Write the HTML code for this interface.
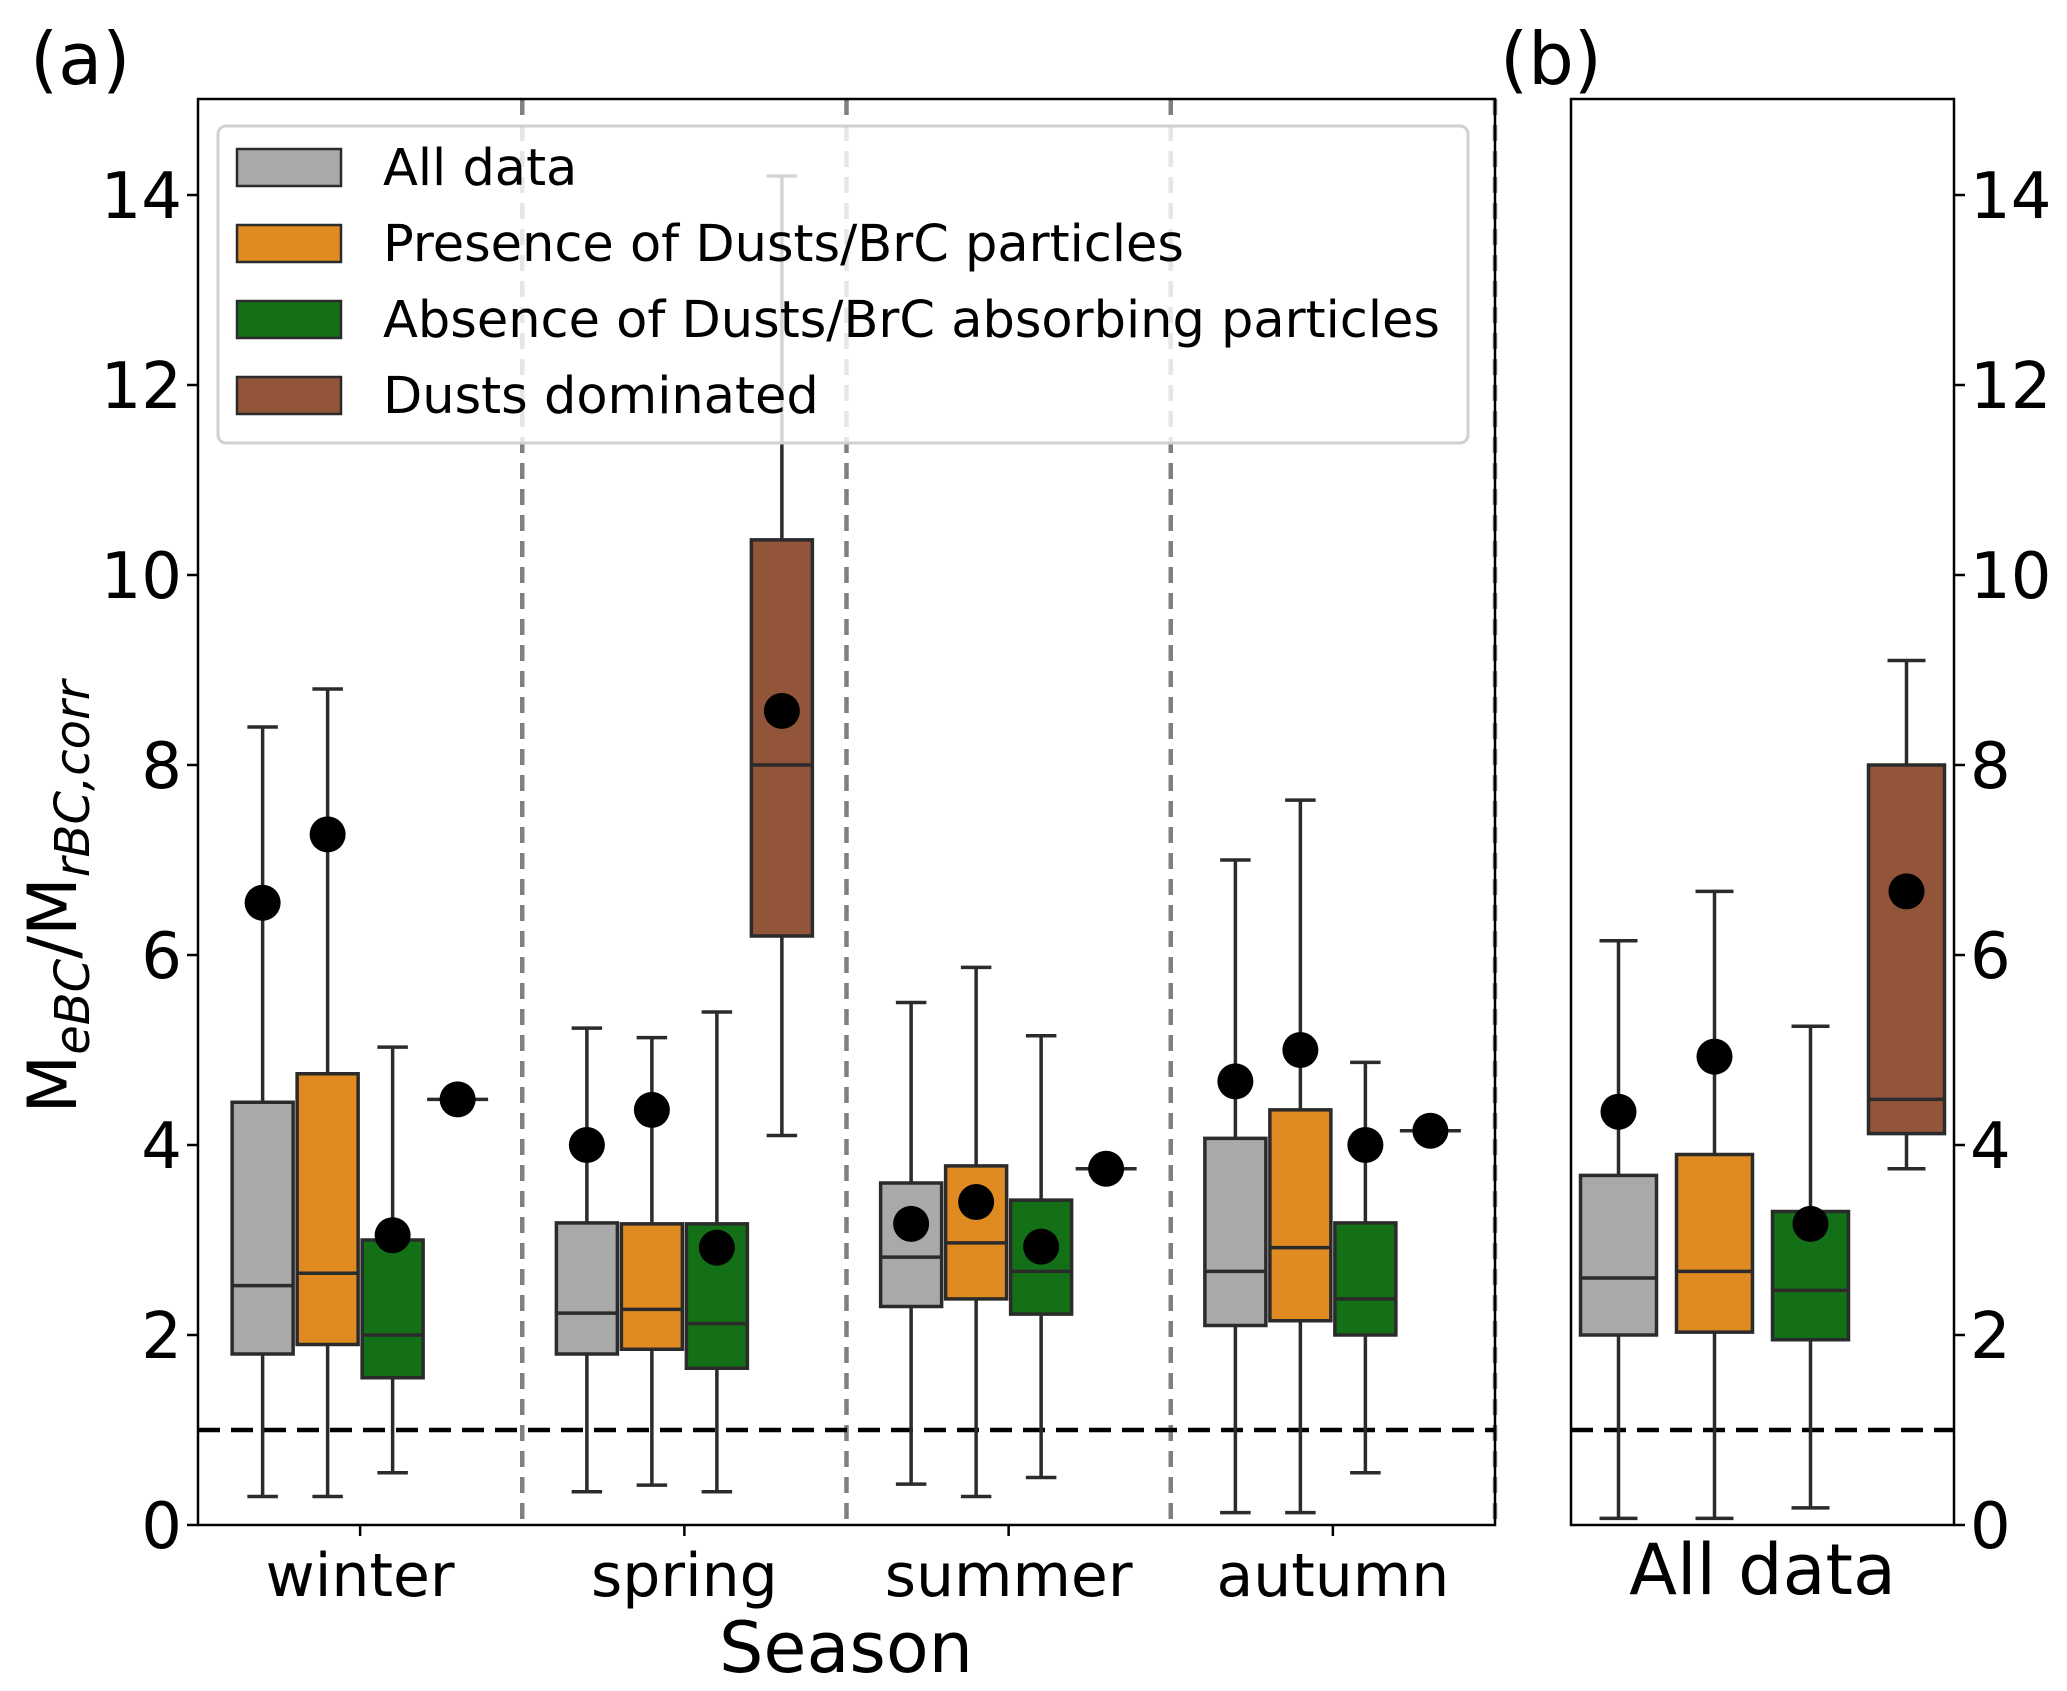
<!DOCTYPE html>
<html><head><meta charset="utf-8"><style>
html,body{margin:0;padding:0;background:#fff;}
svg{display:block;font-family:"DejaVu Sans","Liberation Sans",sans-serif;}
</style></head><body>
<svg id="chart" width="2067" height="1691" viewBox="0 0 2067 1691" xmlns="http://www.w3.org/2000/svg">
<g id="panelA"></g>
<g id="panelB"></g>
<g id="legend"></g>
<text x="30" y="84" font-size="72">(a)</text>
<text x="1500" y="84" font-size="72">(b)</text>
<text transform="translate(76,897) rotate(-90)" text-anchor="middle" font-size="68">M<tspan font-size="48" font-style="italic" dy="13">eBC</tspan><tspan dy="-13">/M</tspan><tspan font-size="48" font-style="italic" dy="13">rBC,corr</tspan></text>
<text x="846" y="1672" text-anchor="middle" font-size="70">Season</text>
</svg>
<script>
const seasons = ["winter","spring","summer","autumn"];
const groups = ["All data","Presence of Dusts/BrC particles","Absence of Dusts/BrC absorbing particles","Dusts dominated"];
const colors = ["#a9a9a9","#e08a22","#137016","#93553a"];
// [whiskerLow, q1, median, q3, whiskerHigh, mean] per season per group
const winterStats = [[0.3,1.8,2.52,4.45,8.4,6.55],[0.3,1.9,2.65,4.75,8.8,7.27],[0.55,1.55,2.0,3.0,5.03,3.05],[4.48,4.48,4.48,4.48,4.48,4.48]];
const springStats = [[0.35,1.8,2.23,3.18,5.23,4.0],[0.42,1.85,2.27,3.17,5.13,4.37],[0.35,1.65,2.12,3.17,5.4,2.92],[4.1,6.2,8.0,10.37,14.2,8.57]];
const summerStats = [[0.43,2.3,2.82,3.6,5.5,3.17],[0.3,2.38,2.97,3.78,5.87,3.4],[0.5,2.22,2.67,3.42,5.15,2.93],[3.75,3.75,3.75,3.75,3.75,3.75]];
const autumnStats = [[0.13,2.1,2.67,4.07,7.0,4.67],[0.13,2.15,2.92,4.37,7.63,5.0],[0.55,2.0,2.38,3.18,4.87,4.0],[4.15,4.15,4.15,4.15,4.15,4.15]];
const allStats = [[0.07,2.0,2.6,3.68,6.15,4.35],[0.07,2.03,2.67,3.9,6.67,4.93],[0.18,1.95,2.47,3.3,5.25,3.17],[3.75,4.12,4.48,8.0,9.1,6.67]];
const yTicks = [0,2,4,6,8,10,12,14];
const refLine = 1;

const NS="http://www.w3.org/2000/svg";
const Y0=1525, UNIT=95;
function y(v){return Y0-v*UNIT;}
function mk(parent,tag,attrs){const e=document.createElementNS(NS,tag);for(const k in attrs)e.setAttribute(k,attrs[k]);parent.appendChild(e);return e;}

function drawBox(g,cx,w,s,color,name){
  const bg=mk(g,'g',{});
  
  
  const lc="#2b2b2b", cap=w*0.5;
  if(s[4]>s[3]){mk(bg,'line',{x1:cx,x2:cx,y1:y(s[3]),y2:y(s[4]),stroke:lc,'stroke-width':3.5});
    mk(bg,'line',{x1:cx-cap/2,x2:cx+cap/2,y1:y(s[4]),y2:y(s[4]),stroke:lc,'stroke-width':3.5});}
  if(s[0]<s[1]){mk(bg,'line',{x1:cx,x2:cx,y1:y(s[1]),y2:y(s[0]),stroke:lc,'stroke-width':3.5});
    mk(bg,'line',{x1:cx-cap/2,x2:cx+cap/2,y1:y(s[0]),y2:y(s[0]),stroke:lc,'stroke-width':3.5});}
  mk(bg,'rect',{x:cx-w/2,y:y(s[3]),width:w,height:Math.max(0,y(s[1])-y(s[3])),fill:color,stroke:lc,'stroke-width':3.5});
  mk(bg,'line',{x1:cx-w/2,x2:cx+w/2,y1:y(s[2]),y2:y(s[2]),stroke:lc,'stroke-width':3.5});
  mk(bg,'circle',{cx:cx,cy:y(s[5]),r:18,fill:'#000'});
}

function axes(g,x0,x1,side){
  mk(g,'rect',{x:x0,y:99,width:x1-x0,height:Y0-99,fill:'none',stroke:'#000','stroke-width':2.5});
  mk(g,'line',{x1:x0,x2:x1,y1:y(refLine),y2:y(refLine),stroke:'#000','stroke-width':4.5,'stroke-dasharray':'22,11'});
  yTicks.forEach(t=>{
    const tx = side==='left'?x0:x1;
    const d = side==='left'?-11:11;
    mk(g,'line',{x1:tx,x2:tx+d,y1:y(t),y2:y(t),stroke:'#000','stroke-width':2.5});
    const lab=mk(g,'text',{x:side==='left'?tx-16:tx+16,y:y(t)+23,'font-size':64,'text-anchor':side==='left'?'end':'start'});
    lab.textContent=t;
    
    
  });
}

// Panel A
const gA=document.getElementById('panelA');
const AX0=198, AX1=1495, CW=(AX1-AX0)/seasons.length;
const seasonStats=[winterStats,springStats,summerStats,autumnStats];
for(let i=1;i<=seasons.length;i++){
  const x=AX0+i*CW;
  mk(gA,'line',{x1:x,x2:x,y1:99,y2:Y0,stroke:'#808080','stroke-width':4.5,'stroke-dasharray':'16,10'});
}
axes(gA,AX0,AX1,'left');
seasons.forEach((s,i)=>{
  const cx=AX0+(i+0.5)*CW;
  mk(gA,'line',{x1:cx,x2:cx,y1:Y0,y2:Y0+11,stroke:'#000','stroke-width':2.5});
  const t=mk(gA,'text',{x:cx,y:1596,'text-anchor':'middle','font-size':60});
  t.textContent=s;
  
  
  seasonStats[i].forEach((st,j)=>{
    drawBox(gA,cx+(j-1.5)*65,61,st,colors[j],'box-'+s+'-'+j);
  });
});

// Panel B
const gB=document.getElementById('panelB');
const BX0=1571,BX1=1954,BC=(BX0+BX1)/2;
axes(gB,BX0,BX1,'right');
const tb=mk(gB,'text',{x:BC,y:1594,'text-anchor':'middle','font-size':70});
tb.textContent="All data";


allStats.forEach((st,j)=>drawBox(gB,BC+(j-1.5)*96,76,st,colors[j],'box-all-'+j));

// Legend
const gL=document.getElementById('legend');
mk(gL,'rect',{x:218,y:126,width:1250,height:317,rx:8,fill:'rgba(255,255,255,0.8)',stroke:'#d0d0d0','stroke-width':3});
groups.forEach((name,i)=>{
  const yy=149+i*76;
  const p=mk(gL,'rect',{x:237,y:yy,width:104,height:37,fill:colors[i],stroke:'#2b2b2b','stroke-width':2.5});
  
  
  const t=mk(gL,'text',{x:383,y:yy+36,'font-size':51,textLength:0});
  t.removeAttribute('textLength');
  t.textContent=name;
  
  
});
</script>
</body></html>
